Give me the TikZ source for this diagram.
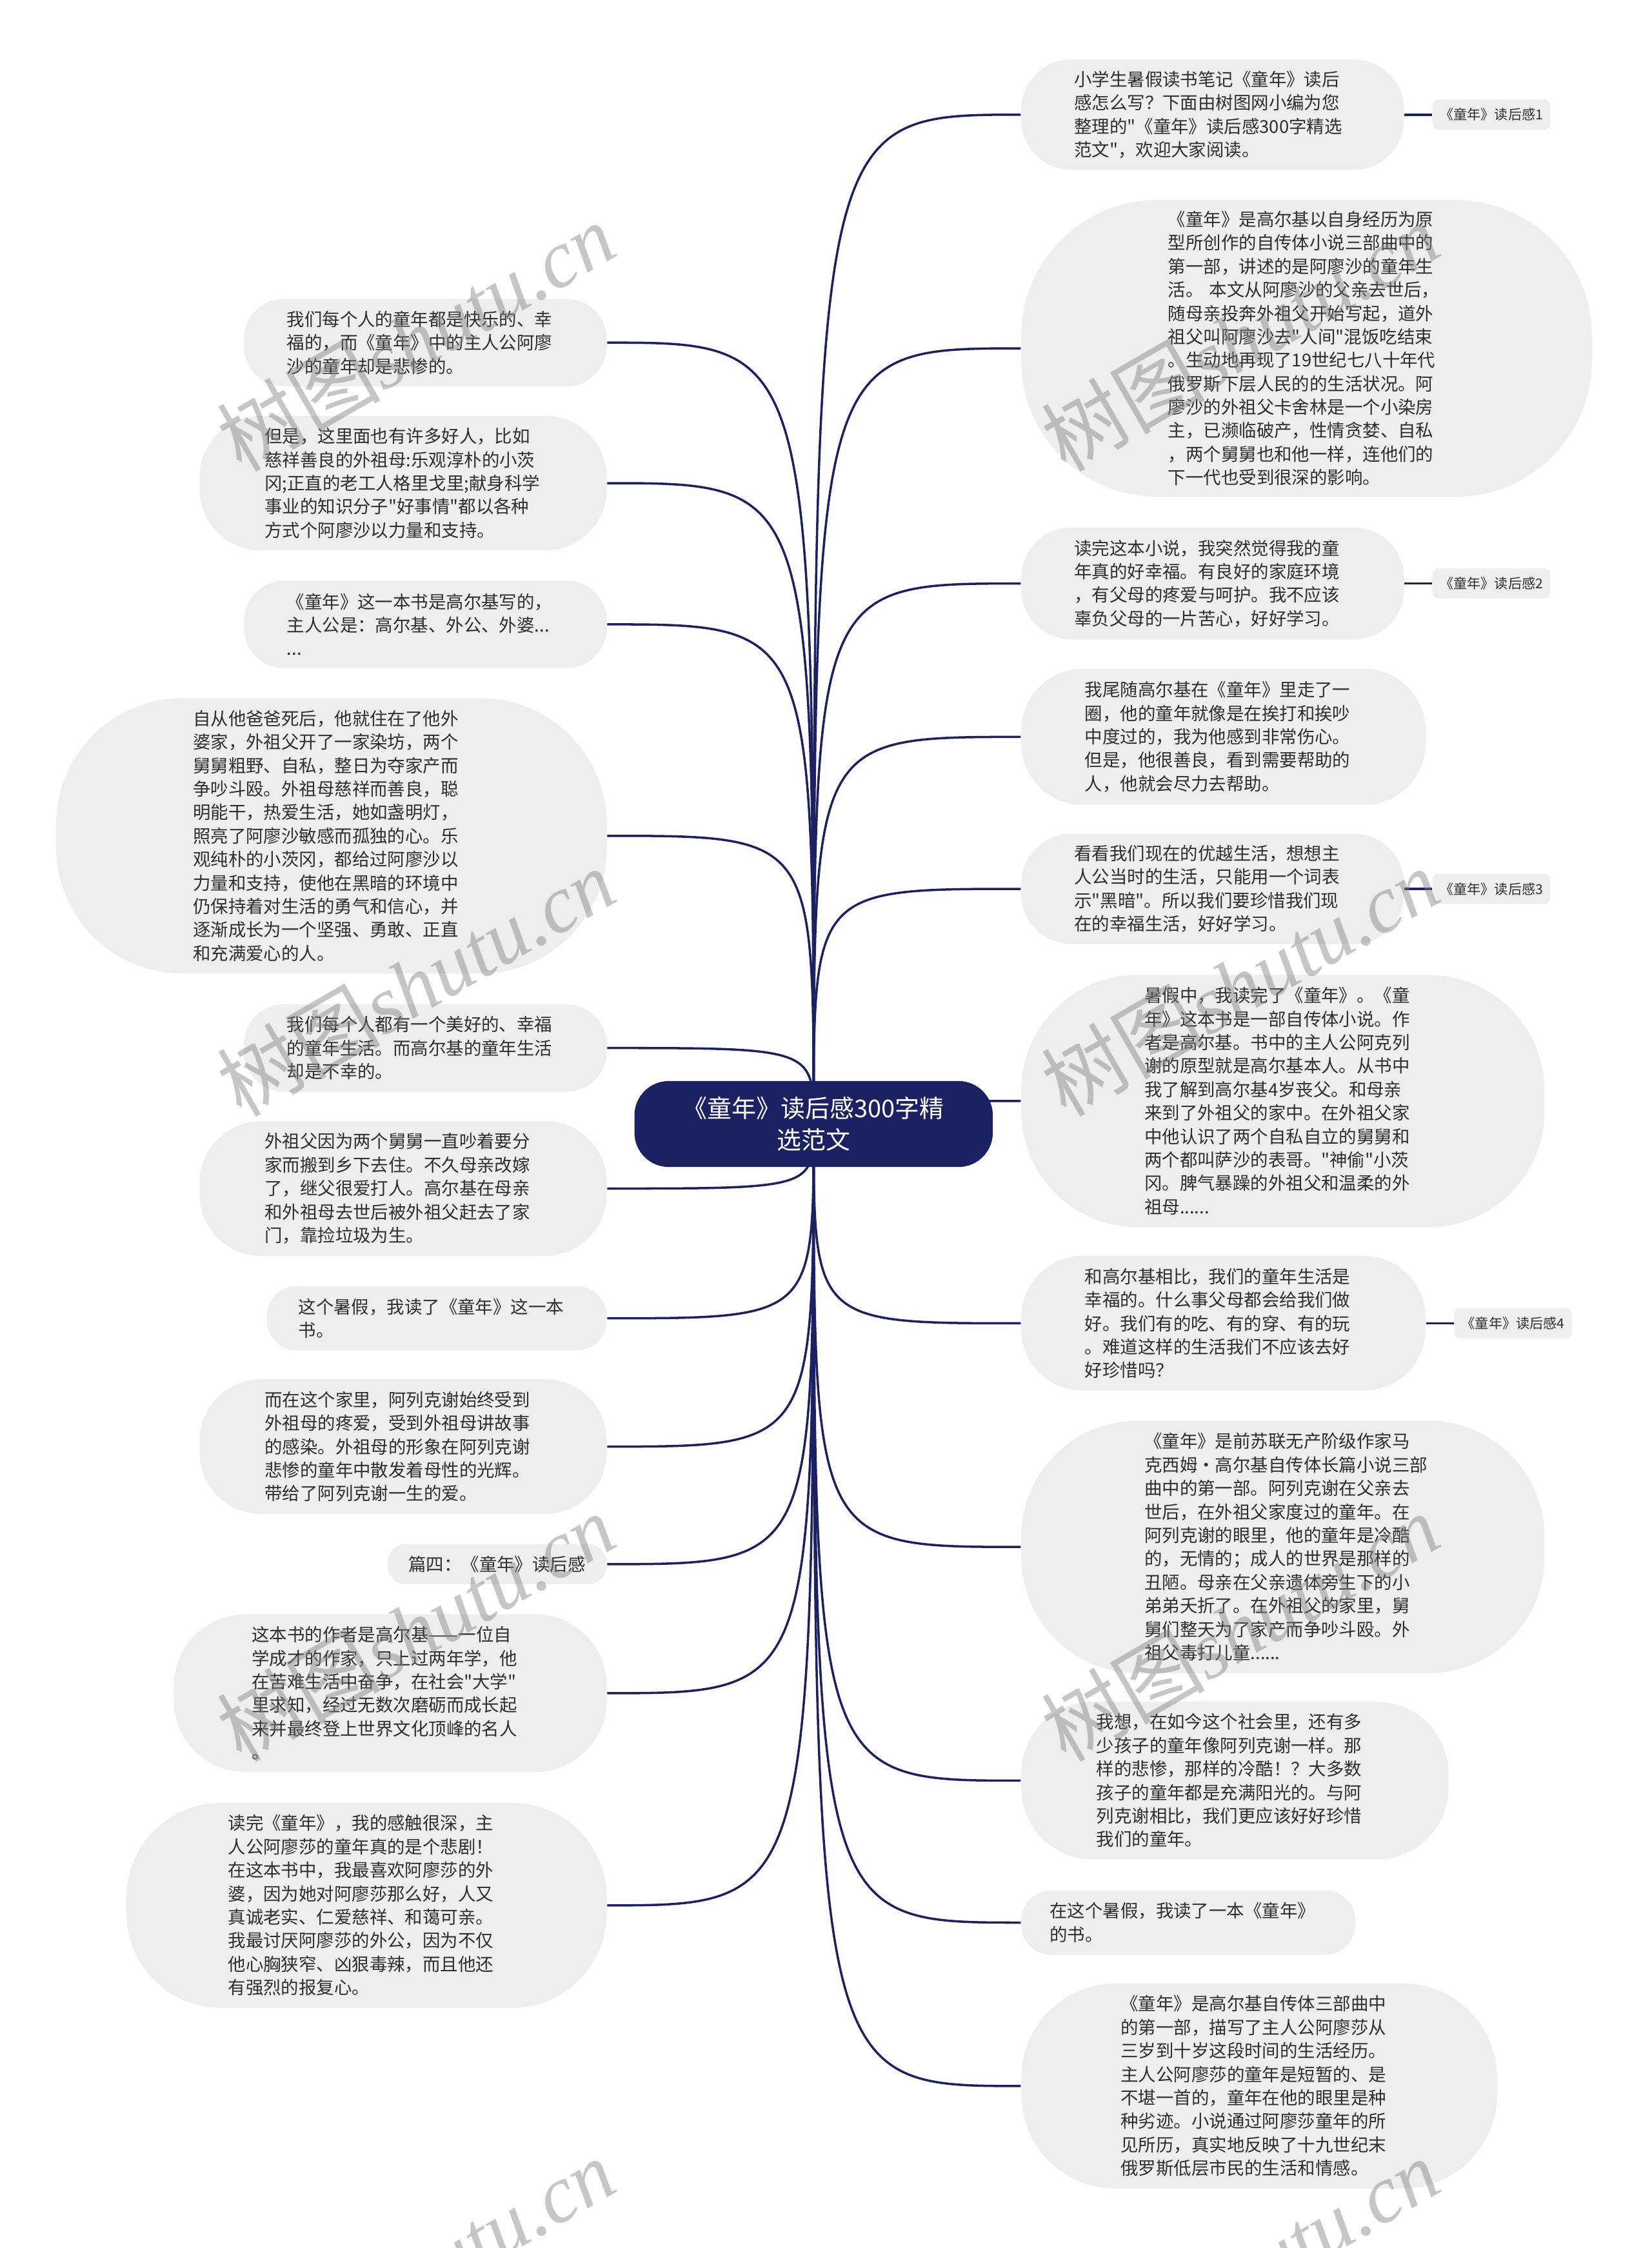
\documentclass[tikz,border=0pt]{standalone}
\usepackage{fontspec}
\setmainfont{Noto Sans CJK SC}[Ligatures=TeXOff]
\newfontfamily\wmserif{Liberation Serif}
\usetikzlibrary{backgrounds}

\definecolor{navy}{HTML}{1C2163}
\definecolor{leafgray}{HTML}{EEEEEE}
\definecolor{ink}{HTML}{2E2E2E}
\newcommand{\pu}{0.0222222cm}

\tikzset{
  leaf/.style={fill=leafgray, text=ink, font=\fontsize{7.8}{10.35}\selectfont,
    align=left, text width=4.29cm, inner sep=0pt},
  size/.style n args={3}{minimum width=#1*\pu, minimum height=#2*\pu, rounded corners=#3*\pu},
  tag/.style={fill=leafgray, text=ink, font=\fontsize{6}{7}\selectfont, inner sep=0pt,
    minimum width=82*\pu, minimum height=21*\pu, rounded corners=4*\pu, anchor=west},
  link/.style={draw=navy, line width=1pt},
  wmark/.style={text=gray, text opacity=0.45, font=\fontsize{36}{36}\selectfont, rotate=30}
}

\begin{document}
\begin{tikzpicture}[x=\pu, y=-\pu]
  \useasboundingbox (0,0) rectangle (1152,1568);

  % centre
  \node[fill=navy, text=white, font=\fontsize{10.8}{13.9}\selectfont, align=center,
    inner sep=0pt, size={250}{60}{24}] (root) at (567.5,784) {《童年》读后感300字精\\选范文};

  % right branch
  \node[leaf, size={267}{77}{35}, anchor=west] (r1) at (712,80) {小学生暑假读书笔记《童年》读后\\感怎么写？下面由树图网小编为您\\整理的"《童年》读后感300字精选\\范文"，欢迎大家阅读。};
  \node[leaf, size={398}{207}{95}, anchor=west] (r2) at (712,243) {《童年》是高尔基以自身经历为原\\型所创作的自传体小说三部曲中的\\第一部，讲述的是阿廖沙的童年生\\活。 本文从阿廖沙的父亲去世后，\\随母亲投奔外祖父开始写起，道外\\祖父叫阿廖沙去"人间"混饭吃结束\\。生动地再现了19世纪七八十年代\\俄罗斯下层人民的的生活状况。阿\\廖沙的外祖父卡舍林是一个小染房\\主，已濒临破产，性情贪婪、自私\\，两个舅舅也和他一样，连他们的\\下一代也受到很深的影响。};
  \node[leaf, size={267}{78}{35}, anchor=west] (r3) at (712,407) {读完这本小说，我突然觉得我的童\\年真的好幸福。有良好的家庭环境\\，有父母的疼爱与呵护。我不应该\\辜负父母的一片苦心，好好学习。};
  \node[leaf, size={282}{95}{43}, anchor=west] (r4) at (712,514) {我尾随高尔基在《童年》里走了一\\圈，他的童年就像是在挨打和挨吵\\中度过的，我为他感到非常伤心。\\但是，他很善良，看到需要帮助的\\人，他就会尽力去帮助。};
  \node[leaf, size={267}{77}{35}, anchor=west] (r5) at (712,620) {看看我们现在的优越生活，想想主\\人公当时的生活，只能用一个词表\\示"黑暗"。所以我们要珍惜我们现\\在的幸福生活，好好学习。};
  \node[leaf, size={365}{176}{81}, anchor=west] (r6) at (712,768) {暑假中，我读完了《童年》。《童\\年》这本书是一部自传体小说。作\\者是高尔基。书中的主人公阿克列\\谢的原型就是高尔基本人。从书中\\我了解到高尔基4岁丧父。和母亲\\来到了外祖父的家中。在外祖父家\\中他认识了两个自私自立的舅舅和\\两个都叫萨沙的表哥。"神偷"小茨\\冈。脾气暴躁的外祖父和温柔的外\\祖母......};
  \node[leaf, size={282}{94}{43}, anchor=west] (r7) at (712,923) {和高尔基相比，我们的童年生活是\\幸福的。什么事父母都会给我们做\\好。我们有的吃、有的穿、有的玩\\。难道这样的生活我们不应该去好\\好珍惜吗？};
  \node[leaf, size={365}{176}{81}, anchor=west] (r8) at (712,1079) {《童年》是前苏联无产阶级作家马\\克西姆·高尔基自传体长篇小说三部\\曲中的第一部。阿列克谢在父亲去\\世后，在外祖父家度过的童年。在\\阿列克谢的眼里，他的童年是冷酷\\的，无情的；成人的世界是那样的\\丑陋。母亲在父亲遗体旁生下的小\\弟弟夭折了。在外祖父的家里，舅\\舅们整天为了家产而争吵斗殴。外\\祖父毒打儿童......};
  \node[leaf, size={298}{110}{50}, anchor=west] (r9) at (712,1242) {我想，在如今这个社会里，还有多\\少孩子的童年像阿列克谢一样。那\\样的悲惨，那样的冷酷！？大多数\\孩子的童年都是充满阳光的。与阿\\列克谢相比，我们更应该好好珍惜\\我们的童年。};
  \node[leaf, size={233}{45}{21}, anchor=west] (r10) at (712,1341) {在这个暑假，我读了一本《童年》\\的书。};
  \node[leaf, size={332}{143}{66}, anchor=west] (r11) at (712,1455) {《童年》是高尔基自传体三部曲中\\的第一部，描写了主人公阿廖莎从\\三岁到十岁这段时间的生活经历。\\主人公阿廖莎的童年是短暂的、是\\不堪一首的，童年在他的眼里是种\\种劣迹。小说通过阿廖莎童年的所\\见所历，真实地反映了十九世纪末\\俄罗斯低层市民的生活和情感。};

  % tags
  \node[tag] (t1) at (999,80) {《童年》读后感1};
  \node[tag] (t2) at (999,407) {《童年》读后感2};
  \node[tag] (t3) at (999,620) {《童年》读后感3};
  \node[tag] (t4) at (1014,923) {《童年》读后感4};

  % left branch
  \node[leaf, size={253}{61}{28}, anchor=east] (l1) at (423.5,239) {我们每个人的童年都是快乐的、幸\\福的，而《童年》中的主人公阿廖\\沙的童年却是悲惨的。};
  \node[leaf, size={284}{94}{43}, anchor=east] (l2) at (423.5,337) {但是，这里面也有许多好人，比如\\慈祥善良的外祖母:乐观淳朴的小茨\\冈;正直的老工人格里戈里;献身科学\\事业的知识分子"好事情"都以各种\\方式个阿廖沙以力量和支持。};
  \node[leaf, size={253}{61}{28}, anchor=east] (l3) at (423.5,435.5) {《童年》这一本书是高尔基写的，\\主人公是：高尔基、外公、外婆...\\...};
  \node[leaf, size={384}{192}{88}, anchor=east] (l4) at (423.5,583) {自从他爸爸死后，他就住在了他外\\婆家，外祖父开了一家染坊，两个\\舅舅粗野、自私，整日为夺家产而\\争吵斗殴。外祖母慈祥而善良，聪\\明能干，热爱生活，她如盏明灯，\\照亮了阿廖沙敏感而孤独的心。乐\\观纯朴的小茨冈，都给过阿廖沙以\\力量和支持，使他在黑暗的环境中\\仍保持着对生活的勇气和信心，并\\逐渐成长为一个坚强、勇敢、正直\\和充满爱心的人。};
  \node[leaf, size={253}{61}{28}, anchor=east] (l5) at (423.5,731) {我们每个人都有一个美好的、幸福\\的童年生活。而高尔基的童年生活\\却是不幸的。};
  \node[leaf, size={284}{94}{43}, anchor=east] (l6) at (423.5,829) {外祖父因为两个舅舅一直吵着要分\\家而搬到乡下去住。不久母亲改嫁\\了，继父很爱打人。高尔基在母亲\\和外祖母去世后被外祖父赶去了家\\门，靠捡垃圾为生。};
  \node[leaf, size={237}{45}{21}, anchor=east] (l7) at (423.5,919.5) {这个暑假，我读了《童年》这一本\\书。};
  \node[leaf, size={284}{94}{43}, anchor=east] (l8) at (423.5,1009) {而在这个家里，阿列克谢始终受到\\外祖母的疼爱，受到外祖母讲故事\\的感染。外祖母的形象在阿列克谢\\悲惨的童年中散发着母性的光辉。\\带给了阿列克谢一生的爱。};
  \node[fill=leafgray, text=ink, font=\fontsize{7.8}{10.35}\selectfont, inner sep=0pt,
    size={153}{28}{13}, anchor=east] (l9) at (423.5,1091) {篇四：《童年》读后感};
  \node[leaf, size={302}{110}{50}, anchor=east] (l10) at (423.5,1181) {这本书的作者是高尔基——一位自\\学成才的作家，只上过两年学，他\\在苦难生活中奋争，在社会"大学"\\里求知，经过无数次磨砺而成长起\\来并最终登上世界文化顶峰的名人\\。};
  \node[leaf, size={335}{143}{66}, anchor=east] (l11) at (423.5,1329) {读完《童年》，我的感触很深，主\\人公阿廖莎的童年真的是个悲剧！\\在这本书中，我最喜欢阿廖莎的外\\婆，因为她对阿廖莎那么好，人又\\真诚老实、仁爱慈祥、和蔼可亲。\\我最讨厌阿廖莎的外公，因为不仅\\他心胸狭窄、凶狠毒辣，而且他还\\有强烈的报复心。};

  % connectors
  \begin{scope}[on background layer]
    \draw[link] (root.center) .. controls (root.center |- r1.west) .. (r1.west);
    \draw[link] (root.center) .. controls (root.center |- r2.west) .. (r2.west);
    \draw[link] (root.center) .. controls (root.center |- r3.west) .. (r3.west);
    \draw[link] (root.center) .. controls (root.center |- r4.west) .. (r4.west);
    \draw[link] (root.center) .. controls (root.center |- r5.west) .. (r5.west);
    \draw[link] (root.center) .. controls (root.center |- r6.west) .. (r6.west);
    \draw[link] (root.center) .. controls (root.center |- r7.west) .. (r7.west);
    \draw[link] (root.center) .. controls (root.center |- r8.west) .. (r8.west);
    \draw[link] (root.center) .. controls (root.center |- r9.west) .. (r9.west);
    \draw[link] (root.center) .. controls (root.center |- r10.west) .. (r10.west);
    \draw[link] (root.center) .. controls (root.center |- r11.west) .. (r11.west);
    \draw[link] (root.center) .. controls (root.center |- l1.east) .. (l1.east);
    \draw[link] (root.center) .. controls (root.center |- l2.east) .. (l2.east);
    \draw[link] (root.center) .. controls (root.center |- l3.east) .. (l3.east);
    \draw[link] (root.center) .. controls (root.center |- l4.east) .. (l4.east);
    \draw[link] (root.center) .. controls (root.center |- l5.east) .. (l5.east);
    \draw[link] (root.center) .. controls (root.center |- l6.east) .. (l6.east);
    \draw[link] (root.center) .. controls (root.center |- l7.east) .. (l7.east);
    \draw[link] (root.center) .. controls (root.center |- l8.east) .. (l8.east);
    \draw[link] (root.center) .. controls (root.center |- l9.east) .. (l9.east);
    \draw[link] (root.center) .. controls (root.center |- l10.east) .. (l10.east);
    \draw[link] (root.center) .. controls (root.center |- l11.east) .. (l11.east);
    \draw[link] (r1.east) -- (t1.west);
    \draw[link] (r3.east) -- (t2.west);
    \draw[link] (r5.east) -- (t3.west);
    \draw[link] (r7.east) -- (t4.west);
  \end{scope}

  % watermark
  \begin{scope}
    \clip (0,0) rectangle (1152,1568);
    \node[wmark] (wm1) at (290,235) {树图{\wmserif\itshape shutu.cn}};
    \node[wmark] (wm2) at (865,235) {树图{\wmserif\itshape shutu.cn}};
    \node[wmark] (wm3) at (290,685) {树图{\wmserif\itshape shutu.cn}};
    \node[wmark] (wm4) at (865,685) {树图{\wmserif\itshape shutu.cn}};
    \node[wmark] (wm5) at (290,1135) {树图{\wmserif\itshape shutu.cn}};
    \node[wmark] (wm6) at (865,1135) {树图{\wmserif\itshape shutu.cn}};
    \node[wmark] (wm7) at (290,1585) {树图{\wmserif\itshape shutu.cn}};
    \node[wmark] (wm8) at (865,1585) {树图{\wmserif\itshape shutu.cn}};
  \end{scope}
\end{tikzpicture}
\end{document}
